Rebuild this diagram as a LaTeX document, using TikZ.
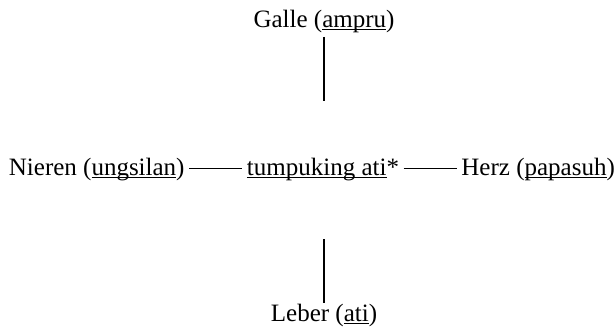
\documentclass[tikz,border=0pt]{standalone}
\usepackage{fontspec}
\setmainfont{Liberation Serif}
\usetikzlibrary{positioning}
\newcommand{\ulword}[1]{\setbox0\hbox{#1}\rlap{\rule[-0.1em]{\wd0}{0.055em}}\box0}

\begin{document}
\begin{tikzpicture}[x=1pt,y=1pt,
organ/.style={inner xsep=4.5pt,inner ysep=0pt,font=\fontsize{25}{29}\selectfont},
link/.style={line width=1.5pt}]
\useasboundingbox (0,0) rectangle (615,331);
\node (tump) [organ,anchor=base] at (323,155) {\ulword{tumpuking ati}*};
\node (nieren) [organ,base left=53pt of tump] {Nieren (\ulword{ungsilan})};
\node (herz) [organ,base right=53pt of tump] {Herz (\ulword{papasuh})};
\node (galle) [organ,anchor=base] at (324,303) {Galle (\ulword{ampru})};
\node (leber) [organ,anchor=base] at (324,9) {Leber (\ulword{ati})};
\draw [link] ([yshift=-9pt]galle.base) -- ([yshift=-73pt]galle.base);
\draw [link] ([yshift=19pt]leber.base) -- ([yshift=83pt]leber.base);
\draw [link] ([yshift=7.5pt]nieren.base east) -- ([yshift=7.5pt]tump.base west);
\draw [link] ([yshift=7.5pt]tump.base east) -- ([yshift=7.5pt]herz.base west);
\end{tikzpicture}
\end{document}
